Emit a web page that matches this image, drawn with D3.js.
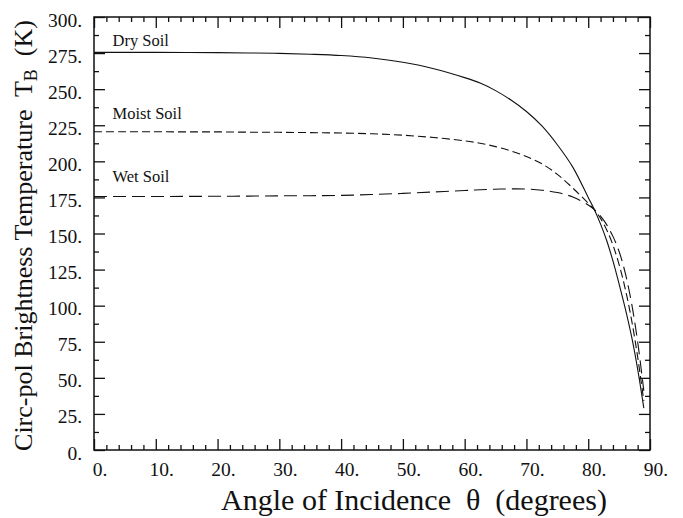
<!DOCTYPE html>
<html>
<head>
<meta charset="utf-8">
<script src="https://cdn.jsdelivr.net/npm/d3@7"></script>
<style>
  body { margin: 0; background: #fff; }
  svg text { font-family: "Liberation Serif", "Times New Roman", serif; fill: #111; }
</style>
</head>
<body>
<svg width="683" height="518"></svg>
<script>
const angles = [0, 5, 10, 15, 20, 25, 30, 35, 40, 45, 50, 55, 60, 62.5, 65, 67.5, 70, 72.5, 75, 77.5, 80, 81, 82, 83, 84, 85, 86, 87, 88, 89];

// Brightness temperature (K) for each soil type
const drySoil   = [275.5, 275.5, 275.5, 275.4, 275.3, 275.1, 274.8, 274.2, 273.3, 271.6, 268.6, 264.2, 258.0, 254.2, 249.0, 242.5, 234.5, 224.5, 211.5, 196.0, 175.0, 166.5, 156.5, 145.0, 131.0, 115.0, 98.0, 79.0, 56.0, 29.0];
const moistSoil = [220.5, 220.5, 220.5, 220.4, 220.4, 220.2, 220.1, 219.9, 219.6, 219.1, 218.1, 216.5, 214.2, 212.5, 210.2, 207.2, 203.3, 198.3, 191.0, 181.5, 171.0, 166.5, 160.5, 152.5, 142.0, 128.5, 111.5, 90.5, 64.5, 34.0];
const wetSoil   = [175.6, 175.6, 175.6, 175.7, 175.8, 175.9, 176.1, 176.2, 176.4, 177.0, 177.8, 178.8, 179.8, 180.3, 180.7, 180.9, 180.8, 180.0, 178.4, 175.3, 169.8, 166.5, 162.0, 156.0, 148.0, 137.5, 122.5, 102.0, 75.0, 41.0];

const seriesNames = ["Dry Soil", "Moist Soil", "Wet Soil"];
// where each curve name is written (angle, temperature)
const labelAngle = [3, 3, 3];
const labelTemp = [279.6, 229.5, 185.6];

const xTicks = [0, 10, 20, 30, 40, 50, 60, 70, 80, 90];
const yTicks = [0, 25, 50, 75, 100, 125, 150, 175, 200, 225, 250, 275, 300];

const svg = d3.select('svg');

// plot frame in pixels
const plotLeft = 94, plotRight = 650, plotTop = 17, plotBottom = 450;

const xScale = d3.scaleLinear().domain([0, 90]).range([plotLeft, plotRight]);
const yScale = d3.scaleLinear().domain([0, 300]).range([plotBottom, plotTop]);

const xMinor = d3.range(0, 91, 2).filter(d => d % 10 !== 0);
const yMinor = d3.range(12.5, 300, 25);

// major ticks with labels, pointing inwards
const bottomAxis = svg.append('g')
  .attr('transform', `translate(0,${plotBottom})`)
  .call(d3.axisBottom(xScale).tickValues(xTicks).tickSize(-11).tickSizeOuter(0).tickFormat(d => d + '.'));
bottomAxis.selectAll('text').attr('y', 0).attr('dy', 26).attr('dx', 5.5);

const leftAxis = svg.append('g')
  .attr('transform', `translate(${plotLeft},0)`)
  .call(d3.axisLeft(yScale).tickValues(yTicks).tickSize(-11).tickSizeOuter(0).tickFormat(d => d + '.'));
leftAxis.selectAll('text').attr('x', -12).attr('dy', 9);

svg.append('g')
  .attr('transform', `translate(0,${plotTop})`)
  .call(d3.axisTop(xScale).tickValues(xTicks).tickSize(-11).tickSizeOuter(0).tickFormat(''));
svg.append('g')
  .attr('transform', `translate(${plotRight},0)`)
  .call(d3.axisRight(yScale).tickValues(yTicks).tickSize(-11).tickSizeOuter(0).tickFormat(''));

// minor ticks on all four sides
svg.append('g').attr('transform', `translate(0,${plotBottom})`)
  .call(d3.axisBottom(xScale).tickValues(xMinor).tickSize(-5).tickSizeOuter(0).tickFormat(''));
svg.append('g').attr('transform', `translate(0,${plotTop})`)
  .call(d3.axisTop(xScale).tickValues(xMinor).tickSize(-5).tickSizeOuter(0).tickFormat(''));
svg.append('g').attr('transform', `translate(${plotLeft},0)`)
  .call(d3.axisLeft(yScale).tickValues(yMinor).tickSize(-5).tickSizeOuter(0).tickFormat(''));
svg.append('g').attr('transform', `translate(${plotRight},0)`)
  .call(d3.axisRight(yScale).tickValues(yMinor).tickSize(-5).tickSizeOuter(0).tickFormat(''));

svg.selectAll('.domain').remove();
svg.selectAll('.tick line').attr('stroke', '#111').attr('stroke-width', 1.3);
svg.selectAll('.tick text').attr('font-size', 19.5).attr('font-family', null).attr('fill', '#111');

// box around the plot
svg.append('rect')
  .attr('x', plotLeft).attr('y', plotTop)
  .attr('width', plotRight - plotLeft).attr('height', plotBottom - plotTop)
  .attr('fill', 'none').attr('stroke', '#111').attr('stroke-width', 1.5);

// the three curves
const line = d3.line()
  .x((d, i) => xScale(angles[i]))
  .y(d => yScale(d))
  .curve(d3.curveCatmullRom.alpha(0.5));

const dashes = [null, '8,4', '13,6'];
[drySoil, moistSoil, wetSoil].forEach((values, k) => {
  svg.append('path')
    .datum(values)
    .attr('d', line)
    .attr('fill', 'none')
    .attr('stroke', '#111')
    .attr('stroke-width', 1.1)
    .attr('stroke-dasharray', dashes[k]);
});

// curve names
svg.selectAll('.curveLabel')
  .data(seriesNames)
  .enter().append('text')
  .attr('class', 'curveLabel')
  .attr('x', (d, i) => xScale(labelAngle[i]))
  .attr('y', (d, i) => yScale(labelTemp[i]))
  .attr('font-size', 16.5)
  .text(d => d);

// axis titles
svg.append('text')
  .attr('x', 414).attr('y', 510)
  .attr('text-anchor', 'middle')
  .attr('font-size', 30)
  .style('white-space', 'pre')
  .text('Angle of Incidence  \u03b8  (degrees)');

const yTitle = svg.append('text')
  .attr('transform', `translate(32,${(plotTop + plotBottom) / 2 + 2}) rotate(-90)`)
  .attr('text-anchor', 'middle')
  .attr('font-size', 26)
  .style('white-space', 'pre');
yTitle.append('tspan').text('Circ-pol Brightness Temperature  T');
yTitle.append('tspan').attr('font-size', 18).attr('dy', 5).text('B');
yTitle.append('tspan').attr('dy', -5).text('  (K)');
</script>
</body>
</html>
